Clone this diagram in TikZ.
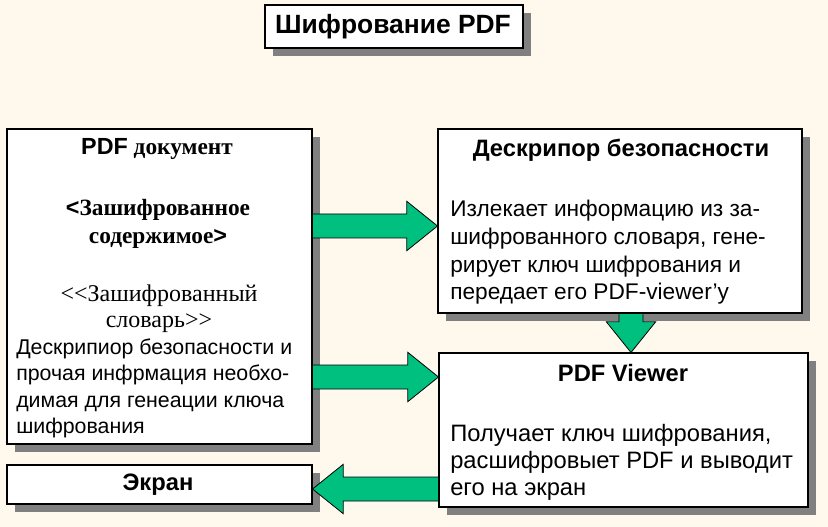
\documentclass[tikz,border=0pt]{standalone}
\usepackage{fontspec}
\setmainfont{Liberation Serif}
\setsansfont{Liberation Sans}
\usepackage{tikz}
\usetikzlibrary{calc,fit,shadows}

\definecolor{bgcream}{HTML}{FFF9ED}
\definecolor{arrowgreen}{HTML}{00C080}
\definecolor{shadowgray}{HTML}{808080}

\begin{document}
\begin{tikzpicture}[
  x=0.75pt, y=-0.75pt,
  box/.style={draw, line width=0.8pt, fill=white, inner sep=0pt,
    drop shadow={shadow xshift=6pt, shadow yshift=-6pt, fill=shadowgray, opacity=1}},
  hd/.style={font=\sffamily\bfseries\fontsize{17.8}{21}\selectfont},
  txt/.style={align=left, inner sep=0pt},
  fat/.style={fill=arrowgreen, draw=black, line width=0.6pt,
    to path={($(\tikztostart)!9pt!90:(\tikztotarget)$)
      -- ($(\tikztotarget)!23pt!(\tikztostart)!9pt!90:(\tikztotarget)$)
      -- ($(\tikztotarget)!23pt!(\tikztostart)!18.5pt!90:(\tikztotarget)$)
      -- (\tikztotarget)
      -- ($(\tikztotarget)!23pt!(\tikztostart)!18.5pt!-90:(\tikztotarget)$)
      -- ($(\tikztotarget)!23pt!(\tikztostart)!9pt!-90:(\tikztotarget)$)
      -- ($(\tikztostart)!9pt!-90:(\tikztotarget)$) -- cycle}}
]
\fill[bgcream] (0,0) rectangle (828,527);
\useasboundingbox (0,0) rectangle (828,527);

% boxes
\node[box, fit={(265,5) (523,48)}] (titlebox) {};
\node[box, fit={(7,129) (312,444)}] (doc) {};
\node[box, fit={(438,129) (802,313)}] (desc) {};
\node[box, fit={(439,353) (808,507)}] (viewer) {};
\node[box, fit={(7,465) (312,504)}] (screen) {};

% texts
\node[font=\sffamily\bfseries\fontsize{19.8}{24}\selectfont] (title) at (393,27) {Шифрование PDF};
\node[font=\fontsize{17.5}{21}\selectfont] (doctitle) at (157,149)
  {\textsf{\bfseries PDF} \textbf{документ}};
\node[font=\bfseries\fontsize{17.5}{21}\selectfont, align=center] (content) at (158,224)
  {\textsf{<}Зашифрованное\\содержимое\textsf{>}};
\node[font=\fontsize{18}{19.5}\selectfont, align=center] (dict) at (159,309)
  {<\kern0pt<Зашифрованный\\словарь>\kern0pt>};
\node[txt, font=\sffamily\fontsize{16}{19.75}\selectfont, anchor=west] (docnote) at (16,388.5)
  {Дескрипиор безопасности и\\прочая инфрмация необхо-\\димая для генеации ключа\\шифрования};
\node[hd] (desctitle) at (621,150) {Дескрипор безопасности};
\node[txt, font=\sffamily\fontsize{17}{20.75}\selectfont, anchor=west] (descnote) at (450,252.5)
  {Излекает информацию из за-\\шифрованного словаря, гене-\\рирует ключ шифрования и\\передает его PDF-viewer’y};
\node[hd] (viewertitle) at (623,373) {PDF Viewer};
\node[txt, font=\sffamily\fontsize{17.8}{20.25}\selectfont, anchor=west] (viewernote) at (450,462)
  {Получает ключ шифрования,\\расшифровыет PDF и выводит\\его на экран};
\node[hd] (screentext) at (158,485) {Экран};

% arrows
\coordinate (s1) at (doc.east |- 0,226);
\coordinate (t1) at (desc.west |- 0,226);
\coordinate (s2) at (doc.east |- 0,377);
\coordinate (t2) at (viewer.west |- 0,377);
\coordinate (s3) at (631,0 |- desc.south);
\coordinate (t3) at (631,0 |- viewer.north);
\coordinate (s4) at (viewer.west |- 0,489);
\coordinate (t4) at (screen.east |- 0,489);
\draw[fat] (s1) to (t1);
\draw[fat] (s2) to (t2);
\draw[fat] (s3) to (t3);
\draw[fat] (s4) to (t4);
\end{tikzpicture}
\end{document}
